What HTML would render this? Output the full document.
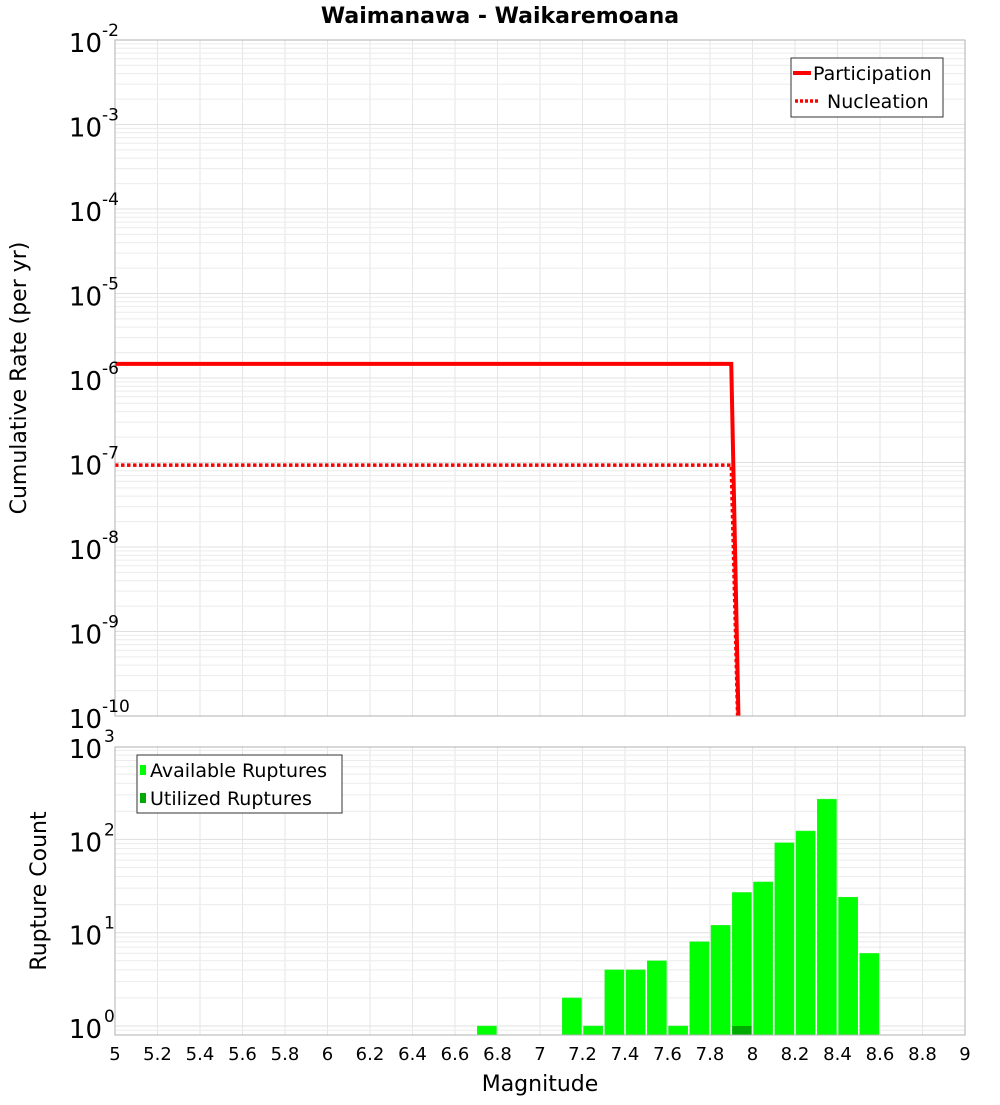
<!DOCTYPE html>
<html><head><meta charset="utf-8"><style>
body{margin:0;background:#fff;font-family:"Liberation Sans","DejaVu Sans",sans-serif}
svg text{font-family:"DejaVu Sans","Liberation Sans",sans-serif}
</style></head><body>
<svg id="chart" width="1000" height="1100" xmlns="http://www.w3.org/2000/svg">
<text x="500" y="23" text-anchor="middle" font-size="22" font-weight="bold">Waimanawa - Waikaremoana</text>
<g id="topG"></g>
<g id="botG"></g>
<text transform="translate(26,378) rotate(-90)" text-anchor="middle" font-size="22">Cumulative Rate (per yr)</text>
<text transform="translate(46,891) rotate(-90)" text-anchor="middle" font-size="22">Rupture Count</text>
<text x="540" y="1091" text-anchor="middle" font-size="22">Magnitude</text>
</svg>
<script>
const partMag=[5,7.9,7.95];
const partRate=[1.47e-6,1.47e-6,1e-12];
const nuclMag=[5,7.9,7.95];
const nuclRate=[9.3e-8,9.3e-8,1e-12];
const binMag=[6.75,7.15,7.25,7.35,7.45,7.55,7.65,7.75,7.85,7.95,8.05,8.15,8.25,8.35,8.45,8.55];
const availCount=[1,2,1,4,4,5,1,8,12,27,35,92,123,270,24,6];
const usedMag=[7.95];
const usedCount=[1];
const xTicks=[5,5.2,5.4,5.6,5.8,6,6.2,6.4,6.6,6.8,7,7.2,7.4,7.6,7.8,8,8.2,8.4,8.6,8.8,9];
const topExp=[-2,-3,-4,-5,-6,-7,-8,-9,-10];
const botExp=[3,2,1,0];
const NS='http://www.w3.org/2000/svg';
const L=115,R=965;
const X=m=>L+(m-5)/4*(R-L);
const T0=40,T1=716;
const yT=v=>T0+(-2-Math.log10(v))*(T1-T0)/8;
const B0=747,B1=1035;
const yB=v=>1026-Math.log10(v)*93.3;
function mk(p,tag,at,txt){const e=document.createElementNS(NS,tag);for(const k in at)e.setAttribute(k,at[k]);if(txt!==undefined)e.textContent=txt;p.appendChild(e);return e;}
const topG=document.getElementById('topG'),botG=document.getElementById('botG');
const svgEl=document.getElementById('chart');
const defs=mk(svgEl,'defs',{});
const c1=mk(defs,'clipPath',{id:'ct'});mk(c1,'rect',{x:L,y:T0,width:R-L,height:T1-T0});
const c2=mk(defs,'clipPath',{id:'cb'});mk(c2,'rect',{x:L,y:B0,width:R-L,height:B1-B0});
function grid(g,y0,y1,yf,elo,ehi){
  for(const t of xTicks){const l=mk(g,'line',{x1:X(t),x2:X(t),y1:y0,y2:y1,stroke:'#e6e6e6'});
    
    }
  for(let e=elo;e<ehi;e++)for(let k=1;k<10;k++){const y=yf(k*Math.pow(10,e));if(y<y0||y>y1)continue;const l=mk(g,'line',{x1:L,x2:R,y1:y,y2:y,stroke:k==1?'#e0e0e0':'#ececec'});
    
    }
}
grid(topG,T0,T1,yT,-10,-2);
grid(botG,B0,B1,yB,-1,3);
function path(xs,ys,yf){return xs.map((m,i)=>(i?'L':'M')+X(m)+','+yf(ys[i])).join(' ');}
const pl=mk(topG,'path',{d:path(partMag,partRate,yT),stroke:'#ff0000','stroke-width':4,fill:'none','clip-path':'url(#ct)'});


const nl=mk(topG,'path',{d:path(nuclMag,nuclRate,yT),stroke:'#ff0000','stroke-width':3.5,'stroke-dasharray':'3.5,2.5',fill:'none','clip-path':'url(#ct)'});


mk(topG,'rect',{x:L,y:T0,width:R-L,height:T1-T0,fill:'none',stroke:'#b0b0b0'});
for(const e of topExp){const y=yT(Math.pow(10,e));const t=mk(topG,'text',{x:102,y:y+12,'text-anchor':'end','font-size':26},'10');
 
 
 const s=mk(topG,'text',{x:102,y:y-4,'font-size':17},String(e));
 
 }
const lg=mk(topG,'g',{});


mk(lg,'rect',{x:791,y:58,width:152,height:59,fill:'#fff',stroke:'#333'});
mk(lg,'line',{x1:793,x2:811,y1:73,y2:73,stroke:'#f00','stroke-width':4});
mk(lg,'text',{x:813,y:80,'font-size':19},'Participation');
mk(lg,'line',{x1:795,x2:820,y1:101,y2:101,stroke:'#f00','stroke-width':3.5,'stroke-dasharray':'3,2'});
mk(lg,'text',{x:827,y:108,'font-size':19},'Nucleation');
const bw=(X(0.1)-X(0))-2;
binMag.forEach((m,i)=>{const y=yB(availCount[i]);const r=mk(botG,'rect',{x:X(m)-bw/2,y:y,width:bw,height:B1-y,fill:'#00ff00',stroke:'#33ee33','stroke-width':0.5,'clip-path':'url(#cb)'});
 
 });
usedMag.forEach((m,i)=>{const y=yB(usedCount[i]);const r=mk(botG,'rect',{x:X(m)-bw/2,y:y,width:bw,height:B1-y,fill:'#00aa00','clip-path':'url(#cb)'});
 
 });
mk(botG,'rect',{x:L,y:B0,width:R-L,height:B1-B0,fill:'none',stroke:'#b0b0b0'});
for(const e of botExp){const y=yB(Math.pow(10,e));const t=mk(botG,'text',{x:102,y:y+12,'text-anchor':'end','font-size':26},'10');
 
 
 const s=mk(botG,'text',{x:104,y:y-4,'font-size':17},String(e));
 
 }
for(const t of xTicks){const tx=mk(botG,'text',{x:X(t),y:1060,'text-anchor':'middle','font-size':18},String(t));
 
 }
const lb=mk(botG,'g',{});


mk(lb,'rect',{x:137,y:755,width:205,height:58,fill:'#fff',stroke:'#333'});
mk(lb,'rect',{x:140,y:765,width:6,height:10,fill:'#00ff00'});
mk(lb,'text',{x:150,y:777,'font-size':19},'Available Ruptures');
mk(lb,'rect',{x:140,y:793,width:6,height:10,fill:'#00aa00'});
mk(lb,'text',{x:150,y:805,'font-size':19},'Utilized Ruptures');
</script>
</body></html>
